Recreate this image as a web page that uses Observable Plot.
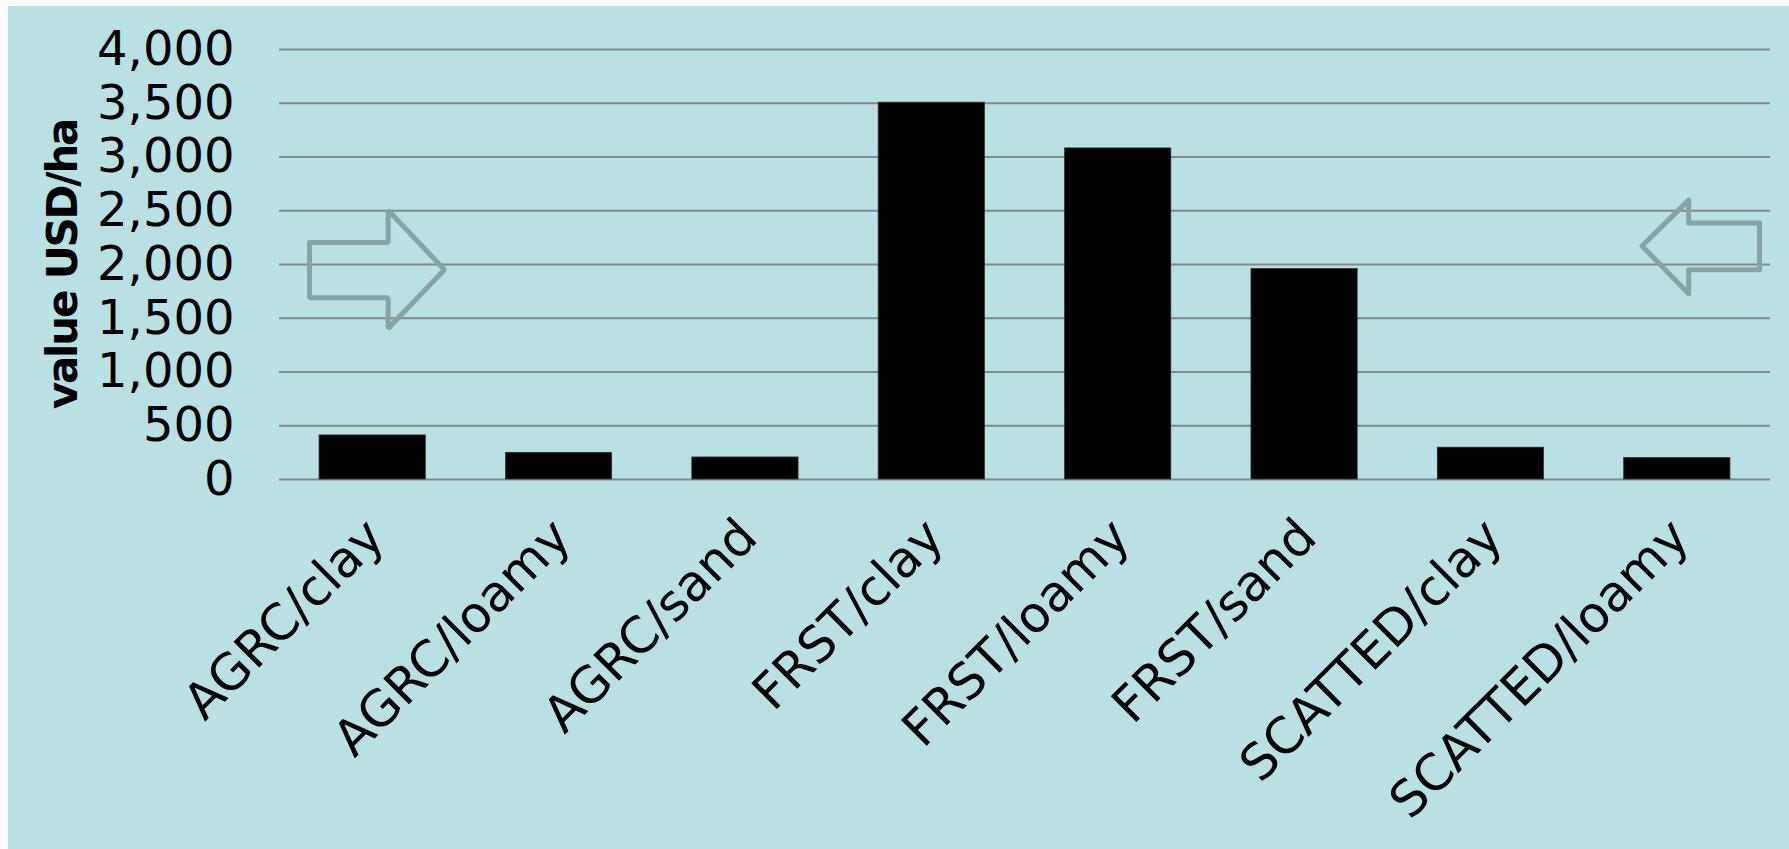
<!DOCTYPE html>
<html>
<head>
<meta charset="utf-8">
<script src="https://cdn.jsdelivr.net/npm/d3@7"></script>
<script src="https://cdn.jsdelivr.net/npm/@observablehq/plot@0.6"></script>
<style>
  html, body { margin: 0; padding: 0; background: #ffffff; }
  #chart { position: absolute; left: 8px; top: 6px; }
  #chart svg { background: #b9e0e3; display: block; }
  #chart g[aria-label="text"] text { letter-spacing: -2.2px; }
</style>
</head>
<body>
<div id="chart"></div>
<script>
// Categories and values (USD/ha)
const categories = ["AGRC/clay", "AGRC/loamy", "AGRC/sand", "FRST/clay", "FRST/loamy", "FRST/sand", "SCATTED/clay", "SCATTED/loamy"];
const values = [410, 248, 205, 3505, 3080, 1958, 296, 200];
const yTicks = [0, 500, 1000, 1500, 2000, 2500, 3000, 3500, 4000];
const yLabel = "value USD/ha";

// Decorative block arrows, in (category position, value) units
const arrowRightX = [0.161, 0.583, 0.583, 0.885, 0.583, 0.583, 0.161, 0.161];
const arrowRightY = [2204, 2204, 2505, 1952, 1405, 1691, 1691, 2204];
const arrowLeftX = [7.941, 7.561, 7.561, 7.311, 7.561, 7.561, 7.941, 7.941];
const arrowLeftY = [2387, 2387, 2599, 2172, 1729, 1952, 1952, 2387];

const bars = categories.map((c, i) => ({cat: c, i, v: values[i]}));
const arrowR = arrowRightX.map((x, k) => ({x, y: arrowRightY[k]}));
const arrowL = arrowLeftX.map((x, k) => ({x, y: arrowLeftY[k]}));

const pad = 0.215;
const font = "DejaVu Sans, Verdana, sans-serif";

const chart = Plot.plot({
  width: 1781,
  height: 843,
  marginLeft: 271,
  marginRight: 19,
  marginTop: 43,
  marginBottom: 370,
  style: {fontFamily: font, background: "#b9e0e3", color: "#000"},
  x: {type: "linear", domain: [0, categories.length], axis: null},
  y: {domain: [0, 4000], axis: null},
  marks: [
    Plot.ruleY(yTicks, {stroke: "#878787", strokeWidth: 1.8}),
    Plot.rectY(bars, {x1: d => d.i + pad, x2: d => d.i + 1 - pad, y1: 0, y2: "v", fill: "#000", stroke: "#333", strokeWidth: 0.8}),
    Plot.axisY({ticks: yTicks, tickFormat: d3.format(","), tickSize: 0, tickPadding: 45, fontSize: 48, label: null}),
    Plot.axisX({
      ticks: categories.map((c, i) => i + 0.5),
      tickFormat: d => categories[Math.floor(d)],
      tickSize: 0, tickPadding: 49, tickRotate: -45,
      textAnchor: "end", lineAnchor: "middle", dx: 3,
      fontSize: 50, label: null
    }),
    Plot.text([yLabel], {frameAnchor: "left", rotate: -90, dx: -216, fontSize: 42, fontWeight: "bold", textAnchor: "middle", lineAnchor: "middle", fill: "#000"}),
    Plot.line(arrowR, {x: "x", y: "y", stroke: "#86a4a6", strokeWidth: 5, strokeLinejoin: "miter"}),
    Plot.line(arrowL, {x: "x", y: "y", stroke: "#86a4a6", strokeWidth: 5, strokeLinejoin: "round"})
  ]
});
document.getElementById("chart").appendChild(chart);
</script>
</body>
</html>
